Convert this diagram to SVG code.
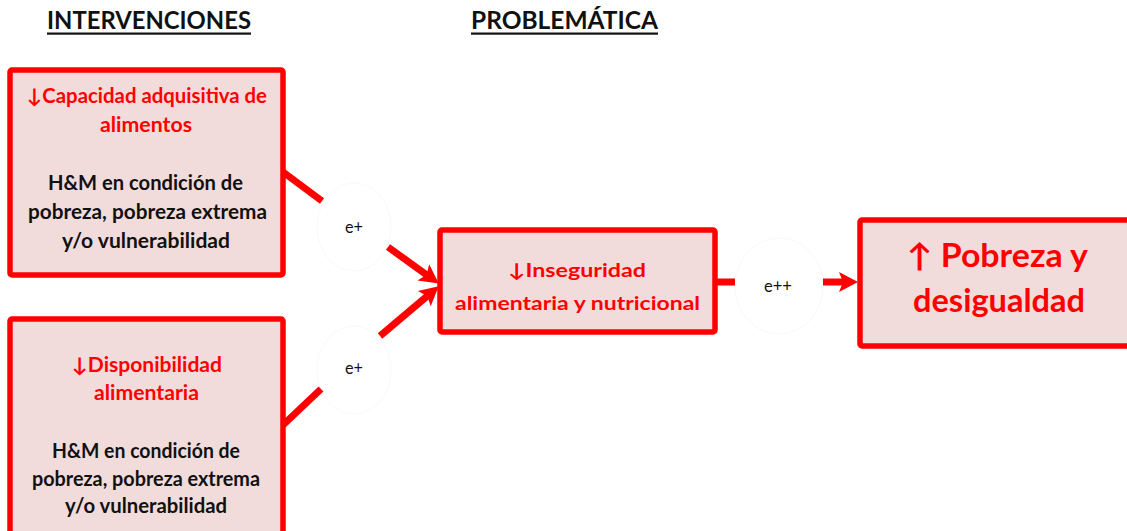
<svg xmlns="http://www.w3.org/2000/svg" width="1127" height="531" viewBox="0 0 1127 531">
<style>
.box{fill:#F2DCDB;stroke:#FF0000;stroke-width:5.5;stroke-linejoin:round}
.t{font-family:Lato,"Liberation Sans","DejaVu Sans",sans-serif;font-weight:bold;text-anchor:middle}
.r{fill:#FF0000}
.k{fill:#111111}
.hd{font-family:Lato,"Liberation Sans",sans-serif;font-weight:bold;font-size:24px;fill:#111111;text-anchor:middle}
.lbl{font-family:Lato,"Liberation Sans",sans-serif;font-size:17px;fill:#111111;text-anchor:middle}
.ln{stroke:#FF0000;stroke-width:7;fill:none}
.halo{fill:#FFFFFF;stroke:#F9F9F9;stroke-width:1}
</style>
<defs>
<marker id="ah" markerUnits="userSpaceOnUse" markerWidth="24" markerHeight="24" viewBox="-2 -12 24 24" refX="4" refY="0" orient="auto">
<path d="M0,-10 L19,0 L0,10 L4,0 Z" fill="#FF0000"/>
</marker>
</defs>
<rect width="1127" height="531" fill="#FFFFFF"/>
<g id="headers">
<text class="hd" x="149" y="29" textLength="204" lengthAdjust="spacingAndGlyphs">INTERVENCIONES</text>
<rect x="47" y="32.5" width="204" height="2.2" fill="#111111"/>
<text class="hd" x="564.5" y="29" textLength="187" lengthAdjust="spacingAndGlyphs">PROBLEMÁTICA</text>
<rect x="471" y="32.5" width="187" height="2.2" fill="#111111"/>
</g>
<g id="labels">
<ellipse class="halo" cx="354" cy="227" rx="37" ry="44"/>
<ellipse class="halo" cx="354" cy="370" rx="37" ry="44"/>
<ellipse class="halo" cx="779" cy="286" rx="44" ry="48"/>
<text class="lbl" x="354" y="233" textLength="18" lengthAdjust="spacingAndGlyphs">e+</text>
<text class="lbl" x="354" y="374" textLength="18" lengthAdjust="spacingAndGlyphs">e+</text>
<text class="lbl" x="778" y="292" textLength="28" lengthAdjust="spacingAndGlyphs">e++</text>
</g>
<g id="connectors">
<line class="ln" x1="283" y1="172" x2="322" y2="201"/>
<line class="ln" x1="388" y1="247" x2="426.6" y2="274.8" marker-end="url(#ah)"/>
<line class="ln" x1="283" y1="425" x2="321" y2="389"/>
<line class="ln" x1="380" y1="336" x2="427.3" y2="296" marker-end="url(#ah)"/>
<line class="ln" x1="715" y1="282" x2="735" y2="282"/>
<line class="ln" x1="823" y1="282" x2="843" y2="282" marker-end="url(#ah)"/>
</g>
<g id="node-capacidad">
<rect class="box" x="10" y="70" width="273" height="205" rx="2"/>
<text class="t r" font-size="20" x="147" y="103" textLength="240" lengthAdjust="spacingAndGlyphs">↓Capacidad adquisitiva de</text>
<text class="t r" font-size="20" x="146" y="132" textLength="92" lengthAdjust="spacingAndGlyphs">alimentos</text>
<text class="t k" font-size="20" x="145.5" y="190" textLength="195" lengthAdjust="spacingAndGlyphs">H&amp;M en condición de</text>
<text class="t k" font-size="20" x="147.5" y="219" textLength="239" lengthAdjust="spacingAndGlyphs">pobreza, pobreza extrema</text>
<text class="t k" font-size="20" x="146" y="248" textLength="168" lengthAdjust="spacingAndGlyphs">y/o vulnerabilidad</text>
</g>
<g id="node-disponibilidad">
<rect class="box" x="10" y="319" width="273" height="216" rx="2"/>
<text class="t r" font-size="20" x="147" y="372" textLength="150" lengthAdjust="spacingAndGlyphs">↓Disponibilidad</text>
<text class="t r" font-size="20" x="146.5" y="400" textLength="105" lengthAdjust="spacingAndGlyphs">alimentaria</text>
<text class="t k" font-size="20" x="146" y="458" textLength="188" lengthAdjust="spacingAndGlyphs">H&amp;M en condición de</text>
<text class="t k" font-size="20" x="146" y="486" textLength="228" lengthAdjust="spacingAndGlyphs">pobreza, pobreza extrema</text>
<text class="t k" font-size="20" x="146" y="513" textLength="162" lengthAdjust="spacingAndGlyphs">y/o vulnerabilidad</text>
</g>
<g id="node-inseguridad">
<rect class="box" x="440" y="230" width="275" height="102" rx="2"/>
<text class="t r" font-size="19" x="577" y="277" textLength="138" lengthAdjust="spacingAndGlyphs">↓Inseguridad</text>
<text class="t r" font-size="19" x="577.5" y="310" textLength="245" lengthAdjust="spacingAndGlyphs">alimentaria y nutricional</text>
</g>
<g id="node-pobreza">
<rect class="box" x="860" y="220" width="300" height="126" rx="2"/>
<text class="t r" font-size="32" x="997.5" y="267" textLength="181" lengthAdjust="spacingAndGlyphs">↑ Pobreza y</text>
<text class="t r" font-size="32" x="999" y="312" textLength="172" lengthAdjust="spacingAndGlyphs">desigualdad</text>
</g>
</svg>
